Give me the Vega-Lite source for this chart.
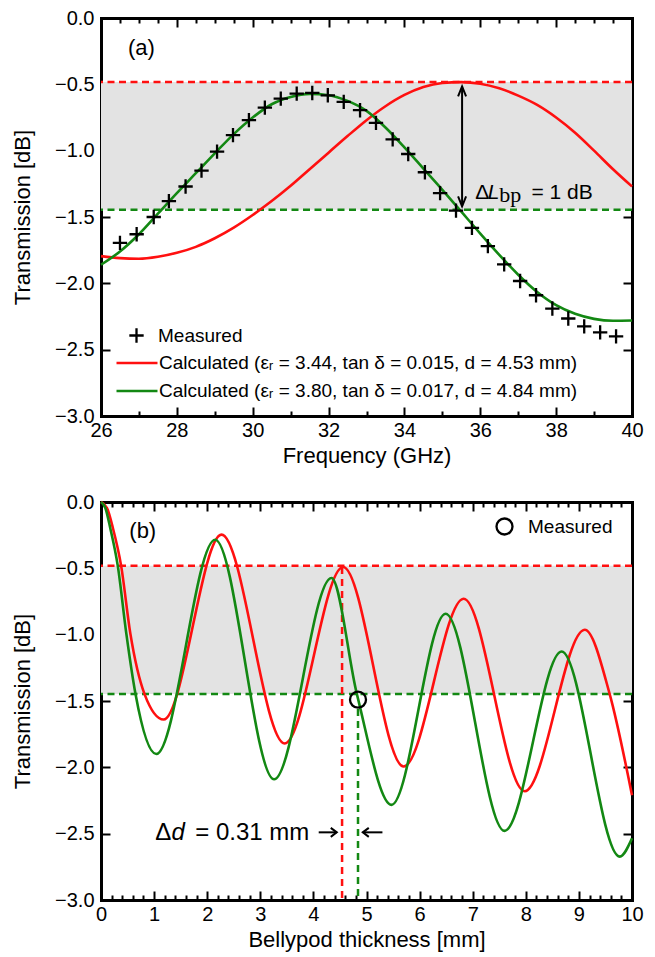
{
  "$schema": "https://vega.github.io/schema/vega-lite/v6.json",
  "background": "white",
  "padding": {"left": 11, "top": 8, "right": 5, "bottom": 5},
  "spacing": 26,
  "config": {
    "font": "Liberation Sans",
    "view": {"stroke": null},
    "axis": {
      "domainColor": "black", "domainWidth": 3, "domainCap": "square",
      "tickColor": "black", "tickWidth": 2,
      "labelColor": "black", "labelFontSize": 20, "labelFlush": false, "labelOverlap": false, "labelBound": false,
      "titleColor": "black", "titleFontSize": 22, "titleFontWeight": "normal",
      "grid": false, "zindex": 1
    },
    "legend": {"labelFont": "Liberation Sans", "labelColor": "black", "labelFontSize": 19, "labelLimit": 0, "padding": 0, "title": null}
  },
  "resolve": {
    "scale": {"x": "independent", "y": "independent", "color": "independent", "shape": "independent"},
    "axis": {"x": "independent", "y": "independent"},
    "legend": {"color": "independent", "shape": "independent"}
  },
  "vconcat": [
    {
      "width": 531,
      "height": 398,
      "layer": [
        {
          "data": {"values": [{"start": 26, "end": 40, "upper": -0.4825, "lower": -1.445}]},
          "mark": {"type": "rect", "color": "#e3e3e3"},
          "encoding": {
            "x": {"field": "start", "type": "quantitative", "scale": {"domain": [26, 40], "nice": false, "zero": false},
              "axis": {"orient": "bottom", "title": "Frequency (GHz)", "format": "d", "labelOverlap": false,
                "values": [26,26.5,27,27.5,28,28.5,29,29.5,30,30.5,31,31.5,32,32.5,33,33.5,34,34.5,35,35.5,36,36.5,37,37.5,38,38.5,39,39.5,40],
                "labelExpr": "datum.value % 2 === 0 ? datum.label : ''",
                "tickSize": {"condition": {"test": "datum.value % 2 === 0", "value": -9}, "value": -5},
                "labelPadding": 13, "titlePadding": 1}},
            "x2": {"field": "end"},
            "y": {"field": "upper", "type": "quantitative", "scale": {"domain": [-3, 0], "nice": false, "zero": false},
              "axis": {"orient": "left", "title": "Transmission [dB]", "values": [0,-0.5,-1,-1.5,-2,-2.5,-3], "format": ".1f", "labelOverlap": false,
                "tickSize": -9, "labelPadding": 16, "titlePadding": 20}},
            "y2": {"field": "lower"}
          }
        },
        {
          "data": {"values": [{"level": -0.4825}]},
          "mark": {"type": "rule", "color": "#ff1010", "strokeWidth": 2.5, "strokeDash": [7, 4.5]},
          "encoding": {"y": {"field": "level", "type": "quantitative", "axis": null}}
        },
        {
          "data": {"values": [{"level": -1.445}]},
          "mark": {"type": "rule", "color": "#138813", "strokeWidth": 2.5, "strokeDash": [7, 4.5]},
          "encoding": {"y": {"field": "level", "type": "quantitative", "axis": null}}
        },
        {
          "data": {"values": [
            {"series": "Calculated (εᵣ = 3.44, tan δ = 0.015, d = 4.53 mm)", "freq": 26, "trans": -1.795},
            {"series": "Calculated (εᵣ = 3.44, tan δ = 0.015, d = 4.53 mm)", "freq": 26.5, "trans": -1.81},
            {"series": "Calculated (εᵣ = 3.44, tan δ = 0.015, d = 4.53 mm)", "freq": 27, "trans": -1.815},
            {"series": "Calculated (εᵣ = 3.44, tan δ = 0.015, d = 4.53 mm)", "freq": 27.5, "trans": -1.8},
            {"series": "Calculated (εᵣ = 3.44, tan δ = 0.015, d = 4.53 mm)", "freq": 28, "trans": -1.77},
            {"series": "Calculated (εᵣ = 3.44, tan δ = 0.015, d = 4.53 mm)", "freq": 28.5, "trans": -1.725},
            {"series": "Calculated (εᵣ = 3.44, tan δ = 0.015, d = 4.53 mm)", "freq": 29, "trans": -1.66},
            {"series": "Calculated (εᵣ = 3.44, tan δ = 0.015, d = 4.53 mm)", "freq": 29.5, "trans": -1.58},
            {"series": "Calculated (εᵣ = 3.44, tan δ = 0.015, d = 4.53 mm)", "freq": 30, "trans": -1.485},
            {"series": "Calculated (εᵣ = 3.44, tan δ = 0.015, d = 4.53 mm)", "freq": 30.5, "trans": -1.38},
            {"series": "Calculated (εᵣ = 3.44, tan δ = 0.015, d = 4.53 mm)", "freq": 31, "trans": -1.265},
            {"series": "Calculated (εᵣ = 3.44, tan δ = 0.015, d = 4.53 mm)", "freq": 31.5, "trans": -1.14},
            {"series": "Calculated (εᵣ = 3.44, tan δ = 0.015, d = 4.53 mm)", "freq": 32, "trans": -1.015},
            {"series": "Calculated (εᵣ = 3.44, tan δ = 0.015, d = 4.53 mm)", "freq": 32.5, "trans": -0.89},
            {"series": "Calculated (εᵣ = 3.44, tan δ = 0.015, d = 4.53 mm)", "freq": 33, "trans": -0.77},
            {"series": "Calculated (εᵣ = 3.44, tan δ = 0.015, d = 4.53 mm)", "freq": 33.5, "trans": -0.665},
            {"series": "Calculated (εᵣ = 3.44, tan δ = 0.015, d = 4.53 mm)", "freq": 34, "trans": -0.58},
            {"series": "Calculated (εᵣ = 3.44, tan δ = 0.015, d = 4.53 mm)", "freq": 34.5, "trans": -0.52},
            {"series": "Calculated (εᵣ = 3.44, tan δ = 0.015, d = 4.53 mm)", "freq": 35, "trans": -0.49},
            {"series": "Calculated (εᵣ = 3.44, tan δ = 0.015, d = 4.53 mm)", "freq": 35.5, "trans": -0.483},
            {"series": "Calculated (εᵣ = 3.44, tan δ = 0.015, d = 4.53 mm)", "freq": 36, "trans": -0.495},
            {"series": "Calculated (εᵣ = 3.44, tan δ = 0.015, d = 4.53 mm)", "freq": 36.5, "trans": -0.53},
            {"series": "Calculated (εᵣ = 3.44, tan δ = 0.015, d = 4.53 mm)", "freq": 37, "trans": -0.585},
            {"series": "Calculated (εᵣ = 3.44, tan δ = 0.015, d = 4.53 mm)", "freq": 37.5, "trans": -0.655},
            {"series": "Calculated (εᵣ = 3.44, tan δ = 0.015, d = 4.53 mm)", "freq": 38, "trans": -0.75},
            {"series": "Calculated (εᵣ = 3.44, tan δ = 0.015, d = 4.53 mm)", "freq": 38.5, "trans": -0.865},
            {"series": "Calculated (εᵣ = 3.44, tan δ = 0.015, d = 4.53 mm)", "freq": 39, "trans": -1.0},
            {"series": "Calculated (εᵣ = 3.44, tan δ = 0.015, d = 4.53 mm)", "freq": 39.5, "trans": -1.14},
            {"series": "Calculated (εᵣ = 3.44, tan δ = 0.015, d = 4.53 mm)", "freq": 40, "trans": -1.27},
            {"series": "Calculated (εᵣ = 3.80, tan δ = 0.017, d = 4.84 mm)", "freq": 26, "trans": -1.86},
            {"series": "Calculated (εᵣ = 3.80, tan δ = 0.017, d = 4.84 mm)", "freq": 26.5, "trans": -1.76},
            {"series": "Calculated (εᵣ = 3.80, tan δ = 0.017, d = 4.84 mm)", "freq": 27, "trans": -1.63},
            {"series": "Calculated (εᵣ = 3.80, tan δ = 0.017, d = 4.84 mm)", "freq": 27.5, "trans": -1.475},
            {"series": "Calculated (εᵣ = 3.80, tan δ = 0.017, d = 4.84 mm)", "freq": 28, "trans": -1.32},
            {"series": "Calculated (εᵣ = 3.80, tan δ = 0.017, d = 4.84 mm)", "freq": 28.5, "trans": -1.17},
            {"series": "Calculated (εᵣ = 3.80, tan δ = 0.017, d = 4.84 mm)", "freq": 29, "trans": -1.02},
            {"series": "Calculated (εᵣ = 3.80, tan δ = 0.017, d = 4.84 mm)", "freq": 29.5, "trans": -0.875},
            {"series": "Calculated (εᵣ = 3.80, tan δ = 0.017, d = 4.84 mm)", "freq": 30, "trans": -0.75},
            {"series": "Calculated (εᵣ = 3.80, tan δ = 0.017, d = 4.84 mm)", "freq": 30.5, "trans": -0.65},
            {"series": "Calculated (εᵣ = 3.80, tan δ = 0.017, d = 4.84 mm)", "freq": 31, "trans": -0.595},
            {"series": "Calculated (εᵣ = 3.80, tan δ = 0.017, d = 4.84 mm)", "freq": 31.5, "trans": -0.572},
            {"series": "Calculated (εᵣ = 3.80, tan δ = 0.017, d = 4.84 mm)", "freq": 32, "trans": -0.582},
            {"series": "Calculated (εᵣ = 3.80, tan δ = 0.017, d = 4.84 mm)", "freq": 32.5, "trans": -0.625},
            {"series": "Calculated (εᵣ = 3.80, tan δ = 0.017, d = 4.84 mm)", "freq": 33, "trans": -0.7},
            {"series": "Calculated (εᵣ = 3.80, tan δ = 0.017, d = 4.84 mm)", "freq": 33.5, "trans": -0.825},
            {"series": "Calculated (εᵣ = 3.80, tan δ = 0.017, d = 4.84 mm)", "freq": 34, "trans": -0.975},
            {"series": "Calculated (εᵣ = 3.80, tan δ = 0.017, d = 4.84 mm)", "freq": 34.5, "trans": -1.135},
            {"series": "Calculated (εᵣ = 3.80, tan δ = 0.017, d = 4.84 mm)", "freq": 35, "trans": -1.295},
            {"series": "Calculated (εᵣ = 3.80, tan δ = 0.017, d = 4.84 mm)", "freq": 35.5, "trans": -1.46},
            {"series": "Calculated (εᵣ = 3.80, tan δ = 0.017, d = 4.84 mm)", "freq": 36, "trans": -1.625},
            {"series": "Calculated (εᵣ = 3.80, tan δ = 0.017, d = 4.84 mm)", "freq": 36.5, "trans": -1.785},
            {"series": "Calculated (εᵣ = 3.80, tan δ = 0.017, d = 4.84 mm)", "freq": 37, "trans": -1.935},
            {"series": "Calculated (εᵣ = 3.80, tan δ = 0.017, d = 4.84 mm)", "freq": 37.5, "trans": -2.065},
            {"series": "Calculated (εᵣ = 3.80, tan δ = 0.017, d = 4.84 mm)", "freq": 38, "trans": -2.165},
            {"series": "Calculated (εᵣ = 3.80, tan δ = 0.017, d = 4.84 mm)", "freq": 38.5, "trans": -2.23},
            {"series": "Calculated (εᵣ = 3.80, tan δ = 0.017, d = 4.84 mm)", "freq": 39, "trans": -2.268},
            {"series": "Calculated (εᵣ = 3.80, tan δ = 0.017, d = 4.84 mm)", "freq": 39.5, "trans": -2.282},
            {"series": "Calculated (εᵣ = 3.80, tan δ = 0.017, d = 4.84 mm)", "freq": 40, "trans": -2.28}
          ]},
          "mark": {"type": "line", "strokeWidth": 2.6, "interpolate": "monotone"},
          "encoding": {
            "x": {"field": "freq", "type": "quantitative",
              "axis": {"orient": "top", "title": null, "labels": false,
                "values": [26,26.5,27,27.5,28,28.5,29,29.5,30,30.5,31,31.5,32,32.5,33,33.5,34,34.5,35,35.5,36,36.5,37,37.5,38,38.5,39,39.5,40],
                "tickSize": {"condition": {"test": "datum.value % 2 === 0", "value": -9}, "value": -5}}},
            "y": {"field": "trans", "type": "quantitative",
              "axis": {"orient": "right", "title": null, "labels": false, "values": [0,-0.5,-1,-1.5,-2,-2.5,-3], "tickSize": -9}},
            "color": {"field": "series", "type": "nominal",
              "scale": {"domain": ["Calculated (εᵣ = 3.44, tan δ = 0.015, d = 4.53 mm)", "Calculated (εᵣ = 3.80, tan δ = 0.017, d = 4.84 mm)"], "range": ["#ff1010", "#138813"]},
              "legend": {"orient": "none", "legendX": 24, "legendY": 333, "symbolType": "M-2,0H2", "symbolSize": 420, "symbolStrokeWidth": 2.6, "labelOffset": 10, "rowPadding": 6}}
          }
        },
        {
          "data": {"values": [
            {"series": "Measured", "freq": 26.5, "trans": -1.695},
            {"series": "Measured", "freq": 26.94, "trans": -1.63},
            {"series": "Measured", "freq": 27.39, "trans": -1.5},
            {"series": "Measured", "freq": 27.79, "trans": -1.38},
            {"series": "Measured", "freq": 28.23, "trans": -1.27},
            {"series": "Measured", "freq": 28.65, "trans": -1.15},
            {"series": "Measured", "freq": 29.06, "trans": -1.0075},
            {"series": "Measured", "freq": 29.48, "trans": -0.8825},
            {"series": "Measured", "freq": 29.9, "trans": -0.77},
            {"series": "Measured", "freq": 30.32, "trans": -0.675},
            {"series": "Measured", "freq": 30.74, "trans": -0.6075},
            {"series": "Measured", "freq": 31.16, "trans": -0.57},
            {"series": "Measured", "freq": 31.57, "trans": -0.565},
            {"series": "Measured", "freq": 31.98, "trans": -0.5825},
            {"series": "Measured", "freq": 32.4, "trans": -0.6325},
            {"series": "Measured", "freq": 32.83, "trans": -0.695},
            {"series": "Measured", "freq": 33.25, "trans": -0.79},
            {"series": "Measured", "freq": 33.69, "trans": -0.915},
            {"series": "Measured", "freq": 34.1, "trans": -1.025},
            {"series": "Measured", "freq": 34.54, "trans": -1.1625},
            {"series": "Measured", "freq": 34.94, "trans": -1.32},
            {"series": "Measured", "freq": 35.36, "trans": -1.4525},
            {"series": "Measured", "freq": 35.78, "trans": -1.5825},
            {"series": "Measured", "freq": 36.2, "trans": -1.72},
            {"series": "Measured", "freq": 36.63, "trans": -1.8575},
            {"series": "Measured", "freq": 37.05, "trans": -1.9825},
            {"series": "Measured", "freq": 37.47, "trans": -2.09},
            {"series": "Measured", "freq": 37.9, "trans": -2.19},
            {"series": "Measured", "freq": 38.32, "trans": -2.265},
            {"series": "Measured", "freq": 38.74, "trans": -2.325},
            {"series": "Measured", "freq": 39.16, "trans": -2.37},
            {"series": "Measured", "freq": 39.58, "trans": -2.4}
          ]},
          "mark": {"type": "point", "filled": false, "color": "black", "opacity": 1, "size": 420, "strokeWidth": 2.3},
          "encoding": {
            "x": {"field": "freq", "type": "quantitative", "axis": null},
            "y": {"field": "trans", "type": "quantitative", "axis": null},
            "shape": {"field": "series", "type": "nominal",
              "scale": {"domain": ["Measured"], "range": ["M-0.7,0H0.7M0,-0.7V0.7"]},
              "legend": {"orient": "none", "legendX": 24, "legendY": 306, "symbolSize": 420, "symbolStrokeWidth": 2.3, "symbolStrokeColor": "black", "symbolFillColor": "transparent", "labelOffset": 10}}
          }
        },
        {
          "data": {"values": [{"freq": 35.52, "top": -0.515, "bottom": -1.42}]},
          "mark": {"type": "rule", "color": "black", "strokeWidth": 2},
          "encoding": {
            "x": {"field": "freq", "type": "quantitative", "axis": null},
            "y": {"field": "top", "type": "quantitative", "axis": null},
            "y2": {"field": "bottom"}
          }
        },
        {
          "data": {"values": [{"freq": 35.52, "trans": -0.515}]},
          "mark": {"type": "point", "shape": "M-0.4,1L0,0L0.4,1", "size": 400, "filled": false, "color": "black", "opacity": 1, "strokeWidth": 2},
          "encoding": {
            "x": {"field": "freq", "type": "quantitative", "axis": null},
            "y": {"field": "trans", "type": "quantitative", "axis": null}
          }
        },
        {
          "data": {"values": [{"freq": 35.52, "trans": -1.42}]},
          "mark": {"type": "point", "shape": "M-0.4,-1L0,0L0.4,-1", "size": 400, "filled": false, "color": "black", "opacity": 1, "strokeWidth": 2},
          "encoding": {
            "x": {"field": "freq", "type": "quantitative", "axis": null},
            "y": {"field": "trans", "type": "quantitative", "axis": null}
          }
        },
        {
          "data": {"values": [{"freq": 26.712, "trans": -0.2755, "label": "(a)"}]},
          "mark": {"type": "text", "align": "left", "baseline": "alphabetic", "fontSize": 22, "color": "black"},
          "encoding": {
            "x": {"field": "freq", "type": "quantitative", "axis": null},
            "y": {"field": "trans", "type": "quantitative", "axis": null},
            "text": {"field": "label"}
          }
        },
        {
          "data": {"values": [
            {"freq": 35.868, "trans": -1.3645, "label": "Δ"},
            {"freq": 37.35, "trans": -1.3645, "label": "= 1 dB"}
          ]},
          "mark": {"type": "text", "align": "left", "baseline": "alphabetic", "fontSize": 21, "color": "black"},
          "encoding": {
            "x": {"field": "freq", "type": "quantitative", "axis": null},
            "y": {"field": "trans", "type": "quantitative", "axis": null},
            "text": {"field": "label"}
          }
        },
        {
          "data": {"values": [{"freq": 36.2, "trans": -1.3645, "label": "L"}]},
          "mark": {"type": "text", "align": "left", "baseline": "alphabetic", "fontSize": 21, "fontStyle": "italic", "color": "black"},
          "encoding": {
            "x": {"field": "freq", "type": "quantitative", "axis": null},
            "y": {"field": "trans", "type": "quantitative", "axis": null},
            "text": {"field": "label"}
          }
        },
        {
          "data": {"values": [{"freq": 36.5, "trans": -1.39, "label": "bp"}]},
          "mark": {"type": "text", "align": "left", "baseline": "alphabetic", "fontSize": 22, "font": "Liberation Serif", "color": "black"},
          "encoding": {
            "x": {"field": "freq", "type": "quantitative", "axis": null},
            "y": {"field": "trans", "type": "quantitative", "axis": null},
            "text": {"field": "label"}
          }
        }
      ],
      "resolve": {"axis": {"x": "independent", "y": "independent"}}
    },
    {
      "width": 531,
      "height": 398,
      "layer": [
        {
          "data": {"values": [{"start": 0, "end": 10, "upper": -0.48, "lower": -1.448}]},
          "mark": {"type": "rect", "color": "#e3e3e3"},
          "encoding": {
            "x": {"field": "start", "type": "quantitative", "scale": {"domain": [0, 10], "nice": false, "zero": false},
              "axis": {"orient": "bottom", "title": "Bellypod thickness [mm]", "labelOverlap": false,
                "values": [0,0.2,0.4,0.6,0.8,1,1.2,1.4,1.6,1.8,2,2.2,2.4,2.6,2.8,3,3.2,3.4,3.6,3.8,4,4.2,4.4,4.6,4.8,5,5.2,5.4,5.6,5.8,6,6.2,6.4,6.6,6.8,7,7.2,7.4,7.6,7.8,8,8.2,8.4,8.6,8.8,9,9.2,9.4,9.6,9.8,10],
                "labelExpr": "datum.value % 1 === 0 ? format(datum.value, 'd') : ''",
                "tickSize": {"condition": {"test": "datum.value % 1 === 0", "value": -9}, "value": -5},
                "labelPadding": 13, "titlePadding": 1}},
            "x2": {"field": "end"},
            "y": {"field": "upper", "type": "quantitative", "scale": {"domain": [-3, 0], "nice": false, "zero": false},
              "axis": {"orient": "left", "title": "Transmission [dB]", "values": [0,-0.5,-1,-1.5,-2,-2.5,-3], "format": ".1f", "labelOverlap": false,
                "tickSize": -9, "labelPadding": 16, "titlePadding": 20}},
            "y2": {"field": "lower"}
          }
        },
        {
          "data": {"values": [{"level": -0.48}]},
          "mark": {"type": "rule", "color": "#ff1010", "strokeWidth": 2.5, "strokeDash": [7, 4.5]},
          "encoding": {"y": {"field": "level", "type": "quantitative", "axis": null}}
        },
        {
          "data": {"values": [{"level": -1.448}]},
          "mark": {"type": "rule", "color": "#138813", "strokeWidth": 2.5, "strokeDash": [7, 4.5]},
          "encoding": {"y": {"field": "level", "type": "quantitative", "axis": null}}
        },
        {
          "data": {"values": [{"thickness": 4.54, "top": -0.49, "bottom": -3}]},
          "mark": {"type": "rule", "color": "#ff1010", "strokeWidth": 2.5, "strokeDash": [7, 5]},
          "encoding": {
            "x": {"field": "thickness", "type": "quantitative", "axis": null},
            "y": {"field": "top", "type": "quantitative", "axis": null},
            "y2": {"field": "bottom"}
          }
        },
        {
          "data": {"values": [{"thickness": 4.84, "top": -1.56, "bottom": -3}]},
          "mark": {"type": "rule", "color": "#138813", "strokeWidth": 2.5, "strokeDash": [7, 5]},
          "encoding": {
            "x": {"field": "thickness", "type": "quantitative", "axis": null},
            "y": {"field": "top", "type": "quantitative", "axis": null},
            "y2": {"field": "bottom"}
          }
        },
        {
          "data": {"values": [
            {"series": "εᵣ = 3.44", "thickness": 0, "trans": 0},
            {"series": "εᵣ = 3.44", "thickness": 0.113, "trans": -0.045},
            {"series": "εᵣ = 3.44", "thickness": 0.226, "trans": -0.2},
            {"series": "εᵣ = 3.44", "thickness": 0.377, "trans": -0.476},
            {"series": "εᵣ = 3.44", "thickness": 0.553, "trans": -0.992},
            {"series": "εᵣ = 3.44", "thickness": 0.82, "trans": -1.448},
            {"series": "εᵣ = 3.44", "thickness": 1.18, "trans": -1.64},
            {"series": "εᵣ = 3.44", "thickness": 2.27, "trans": -0.246},
            {"series": "εᵣ = 3.44", "thickness": 3.46, "trans": -1.82},
            {"series": "εᵣ = 3.44", "thickness": 4.56, "trans": -0.49},
            {"series": "εᵣ = 3.44", "thickness": 5.7, "trans": -1.994},
            {"series": "εᵣ = 3.44", "thickness": 6.83, "trans": -0.729},
            {"series": "εᵣ = 3.44", "thickness": 7.98, "trans": -2.18},
            {"series": "εᵣ = 3.44", "thickness": 9.11, "trans": -0.963},
            {"series": "εᵣ = 3.44", "thickness": 9.58, "trans": -1.448},
            {"series": "εᵣ = 3.44", "thickness": 10, "trans": -2.21},
            {"series": "εᵣ = 3.80", "thickness": 0, "trans": 0},
            {"series": "εᵣ = 3.80", "thickness": 0.082, "trans": -0.045},
            {"series": "εᵣ = 3.80", "thickness": 0.176, "trans": -0.2},
            {"series": "εᵣ = 3.80", "thickness": 0.314, "trans": -0.476},
            {"series": "εᵣ = 3.80", "thickness": 0.477, "trans": -0.992},
            {"series": "εᵣ = 3.80", "thickness": 0.65, "trans": -1.448},
            {"series": "εᵣ = 3.80", "thickness": 1.04, "trans": -1.9},
            {"series": "εᵣ = 3.80", "thickness": 2.15, "trans": -0.284},
            {"series": "εᵣ = 3.80", "thickness": 3.26, "trans": -2.09},
            {"series": "εᵣ = 3.80", "thickness": 4.34, "trans": -0.573},
            {"series": "εᵣ = 3.80", "thickness": 4.82, "trans": -1.45},
            {"series": "εᵣ = 3.80", "thickness": 5.47, "trans": -2.283},
            {"series": "εᵣ = 3.80", "thickness": 6.49, "trans": -0.842},
            {"series": "εᵣ = 3.80", "thickness": 7.6, "trans": -2.479},
            {"series": "εᵣ = 3.80", "thickness": 8.675, "trans": -1.127},
            {"series": "εᵣ = 3.80", "thickness": 9.77, "trans": -2.673},
            {"series": "εᵣ = 3.80", "thickness": 10, "trans": -2.535}
          ]},
          "mark": {"type": "line", "strokeWidth": 2.6, "interpolate": "monotone"},
          "encoding": {
            "x": {"field": "thickness", "type": "quantitative",
              "axis": {"orient": "top", "title": null, "labels": false,
                "values": [0,0.2,0.4,0.6,0.8,1,1.2,1.4,1.6,1.8,2,2.2,2.4,2.6,2.8,3,3.2,3.4,3.6,3.8,4,4.2,4.4,4.6,4.8,5,5.2,5.4,5.6,5.8,6,6.2,6.4,6.6,6.8,7,7.2,7.4,7.6,7.8,8,8.2,8.4,8.6,8.8,9,9.2,9.4,9.6,9.8,10],
                "tickSize": {"condition": {"test": "datum.value % 1 === 0", "value": -9}, "value": -5}}},
            "y": {"field": "trans", "type": "quantitative",
              "axis": {"orient": "right", "title": null, "labels": false, "values": [0,-0.5,-1,-1.5,-2,-2.5,-3], "tickSize": -9}},
            "color": {"field": "series", "type": "nominal",
              "scale": {"domain": ["εᵣ = 3.44", "εᵣ = 3.80"], "range": ["#ff1010", "#138813"]},
              "legend": null}
          }
        },
        {
          "data": {"values": [{"series": "Measured", "thickness": 4.84, "trans": -1.49}]},
          "mark": {"type": "point", "filled": false, "color": "black", "opacity": 1, "size": 256, "strokeWidth": 2.3},
          "encoding": {
            "x": {"field": "thickness", "type": "quantitative", "axis": null},
            "y": {"field": "trans", "type": "quantitative", "axis": null},
            "shape": {"field": "series", "type": "nominal",
              "scale": {"domain": ["Measured"], "range": ["circle"]},
              "legend": {"orient": "none", "legendX": 394, "legendY": 15, "symbolSize": 256, "symbolStrokeWidth": 2.3, "symbolStrokeColor": "black", "symbolFillColor": "transparent", "labelOffset": 14}}
          }
        },
        {
          "data": {"values": [{"start": 4.1, "end": 4.44, "trans": -2.49}, {"start": 4.93, "end": 5.3, "trans": -2.49}]},
          "mark": {"type": "rule", "color": "black", "strokeWidth": 2},
          "encoding": {
            "x": {"field": "start", "type": "quantitative", "axis": null},
            "x2": {"field": "end"},
            "y": {"field": "trans", "type": "quantitative", "axis": null}
          }
        },
        {
          "data": {"values": [{"thickness": 4.44, "trans": -2.49}]},
          "mark": {"type": "point", "shape": "M-1,-0.75L0,0L-1,0.75", "size": 144, "filled": false, "color": "black", "opacity": 1, "strokeWidth": 2},
          "encoding": {
            "x": {"field": "thickness", "type": "quantitative", "axis": null},
            "y": {"field": "trans", "type": "quantitative", "axis": null}
          }
        },
        {
          "data": {"values": [{"thickness": 4.93, "trans": -2.49}]},
          "mark": {"type": "point", "shape": "M1,-0.75L0,0L1,0.75", "size": 144, "filled": false, "color": "black", "opacity": 1, "strokeWidth": 2},
          "encoding": {
            "x": {"field": "thickness", "type": "quantitative", "axis": null},
            "y": {"field": "trans", "type": "quantitative", "axis": null}
          }
        },
        {
          "data": {"values": [{"thickness": 0.533, "trans": -0.27, "label": "(b)"}]},
          "mark": {"type": "text", "align": "left", "baseline": "alphabetic", "fontSize": 22, "color": "black"},
          "encoding": {
            "x": {"field": "thickness", "type": "quantitative", "axis": null},
            "y": {"field": "trans", "type": "quantitative", "axis": null},
            "text": {"field": "label"}
          }
        },
        {
          "data": {"values": [
            {"thickness": 1.0226, "trans": -2.549, "label": "Δ"},
            {"thickness": 1.776, "trans": -2.549, "label": "= 0.31 mm"}
          ]},
          "mark": {"type": "text", "align": "left", "baseline": "alphabetic", "fontSize": 24, "color": "black"},
          "encoding": {
            "x": {"field": "thickness", "type": "quantitative", "axis": null},
            "y": {"field": "trans", "type": "quantitative", "axis": null},
            "text": {"field": "label"}
          }
        },
        {
          "data": {"values": [{"thickness": 1.33, "trans": -2.549, "label": "d"}]},
          "mark": {"type": "text", "align": "left", "baseline": "alphabetic", "fontSize": 24, "fontStyle": "italic", "color": "black"},
          "encoding": {
            "x": {"field": "thickness", "type": "quantitative", "axis": null},
            "y": {"field": "trans", "type": "quantitative", "axis": null},
            "text": {"field": "label"}
          }
        }
      ],
      "resolve": {"axis": {"x": "independent", "y": "independent"}}
    }
  ]
}
